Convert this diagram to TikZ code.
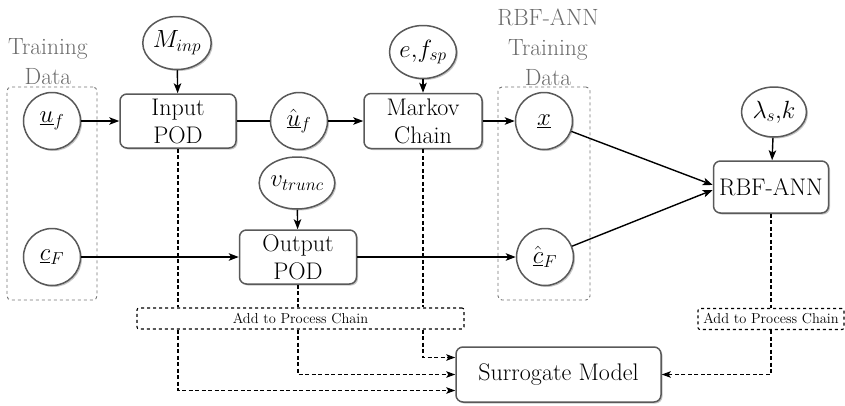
\documentclass[tikz,border=0pt]{standalone}
\usetikzlibrary{arrows.meta,shapes.geometric,shadows,calc}
\begin{document}
\begin{tikzpicture}[x=1pt,y=-1pt,
  every node/.style={font=\fontsize{24}{28}\selectfont},
  shad/.style={drop shadow={opacity=0.45,shadow xshift=1.5pt,shadow yshift=-1.5pt}},
  proc/.style={draw=black!65,line width=1.5pt,rounded corners=7pt,fill=white,align=center,inner sep=2pt,shad},
  var/.style={circle,draw=black!65,line width=1.5pt,fill=white,minimum size=57pt,inner sep=0pt,shad},
  param/.style={ellipse,draw=black!65,line width=1.5pt,fill=white,inner sep=0pt,shad},
  addbox/.style={draw=black,dashed,line width=1.1pt,fill=white,rounded corners=2pt,font=\fontsize{14.4}{16}\selectfont,inner sep=0pt,minimum height=21pt},
  group/.style={draw=black!55,dashed,line width=0.9pt,rounded corners=4pt},
  glabel/.style={text=black!58,align=center,font=\fontsize{23.5}{30}\selectfont},
  arr/.style={-{Stealth[length=10pt,width=7.5pt,inset=2.5pt]},line width=1.4pt},
  dline/.style={line width=1.2pt,dash pattern=on 4pt off 2.5pt},
  darr/.style={dline,-{Stealth[length=9pt,width=6.5pt,inset=2pt]}}
]
\useasboundingbox (0,0) rectangle (845,405);

\node[group,minimum width=90pt,minimum height=213pt] (g1) at (52,193.5) {};
\node[group,minimum width=92pt,minimum height=213pt] (g2) at (544,193.5) {};
\node[glabel] (l1) at (48,62) {Training\\Data};
\node[glabel] (l2) at (548,47) {RBF-ANN\\Training\\Data};

\node[var] (uf) at (52,121) {$\underline{u}_f$};
\node[var] (cF) at (52,257) {$\underline{c}_F$};
\node[param,minimum width=66pt,minimum height=53pt] (Minp) at (177,43) {$M_{inp}$};
\node[proc,minimum width=116pt,minimum height=54pt] (inp) at (178,121) {Input\\POD};
\node[var] (uh) at (299,121) {$\hat{\underline{u}}_f$};
\node[param,minimum width=67pt,minimum height=53pt] (efsp) at (423,52) {$e{,}f_{sp}$};
\node[proc,minimum width=118pt,minimum height=55pt] (mc) at (423,121) {Markov\\Chain};
\node[var] (x) at (544,121) {$\underline{x}$};
\node[param,minimum width=72pt,minimum height=52pt] (vt) at (297,183) {$v_{trunc}$};
\node[proc,minimum width=117pt,minimum height=54pt] (out) at (298,257) {Output\\POD};
\node[var] (cFh) at (545,257) {$\hat{\underline{c}}_F$};
\node[param,minimum width=65pt,minimum height=50pt] (lam) at (774,112) {$\lambda_s{,}k$};
\node[proc,minimum width=115pt,minimum height=52pt] (rbf) at (771,187) {RBF-ANN};
\node[addbox,minimum width=327pt] (add1) at (300.5,318.5) {Add to Process Chain};
\node[addbox,minimum width=146pt] (add2) at (771,319) {Add to Process Chain};
\node[proc,minimum width=205pt,minimum height=55pt] (sur) at (558.5,374.5) {Surrogate Model};

\draw[dline] (inp.south) -- (inp.south |- add1.north);
\draw[dline] (out.south) -- (out.south |- add1.north);
\draw[dline] (mc.south) -- (mc.south |- add1.north);
\draw[darr] (add1.south -| inp.south) |- ([yshift=-16pt]sur.west);
\draw[darr] (add1.south -| out.south) |- (sur.west);
\draw[darr] (add1.south -| mc.south) |- ([yshift=17pt]sur.west);
\draw[dline] (rbf.south) -- (rbf.south |- add2.north);
\draw[darr] (add2.south -| rbf.south) |- (sur.east);

\draw[arr] (uf) -- (inp);
\draw[arr] (Minp) -- (inp);
\draw[line width=1.4pt] (inp) -- (uh);
\draw[arr] (uh) -- (mc);
\draw[arr] (efsp) -- (mc);
\draw[arr] (mc) -- (x);
\draw[arr] (x) -- ([yshift=2pt]rbf.west);
\draw[arr] (cFh) -- ([yshift=-3pt]rbf.west);
\draw[arr] (cF) -- (out);
\draw[arr] (vt) -- (out);
\draw[arr] (out) -- (cFh);
\draw[arr] (lam) -- (rbf);
\end{tikzpicture}
\end{document}
